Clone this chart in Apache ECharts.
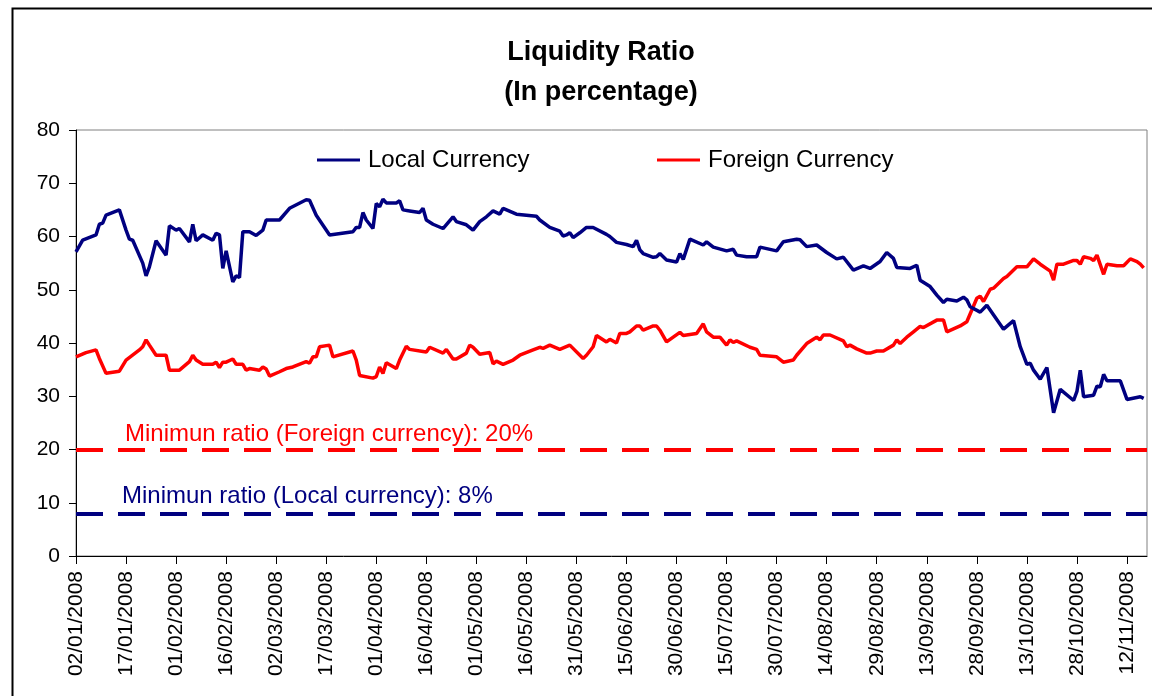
<!DOCTYPE html>
<html><head><meta charset="utf-8">
<script src="https://cdn.jsdelivr.net/npm/echarts@6/dist/echarts.min.js"></script>
<style>html,body{margin:0;padding:0;background:#fff}#c{width:1152px;height:696px}</style>
</head><body><div id="c"></div>
<script>
// ---- data ----
const startDate = '02/01/2008';
const axisEndDay = 321; // last day shown on the axis (days after start)
const tickLabels = ['02/01/2008','17/01/2008','01/02/2008','16/02/2008','02/03/2008','17/03/2008','01/04/2008','16/04/2008','01/05/2008','16/05/2008','31/05/2008','15/06/2008','30/06/2008','15/07/2008','30/07/2008','14/08/2008','29/08/2008','13/09/2008','28/09/2008','13/10/2008','28/10/2008','12/11/2008'];
// day offsets after startDate
const localDays = [0,2,6,7,8,9,13,15,16,17,20,21,22,24,27,28,30,31,34,35,36,38,41,42,43,44,45,47,48,49,50,52,54,56,57,61,64,69,70,72,76,83,84,85,86,87,89,90,91,92,93,96,97,98,100,101,103,104,105,107,110,113,114,117,119,121,123,125,127,128,132,138,139,142,145,146,147,148,149,151,153,155,159,160,162,165,167,168,169,170,173,174,175,177,180,181,182,184,188,189,191,195,197,198,201,204,205,210,212,216,217,219,222,225,228,230,233,236,238,241,243,245,246,250,252,253,256,258,260,261,264,266,267,268,271,273,278,281,283,285,286,287,289,291,293,295,299,300,301,302,305,306,307,308,309,313,315,319,320];
const localValues = [57.1,59.3,60.3,62.3,62.5,64,65,61.2,59.5,59.3,55,52.6,54.3,59.2,56.5,62,61.2,61.5,59,62.3,59.2,60.3,59.3,60.6,60.3,54,57.3,51.5,52.6,52.3,60.9,60.9,60.2,61.2,63.1,63.1,65.3,66.9,66.8,64,60.3,60.9,61.7,61.7,64.5,63.1,61.5,66.2,65.6,67,66.3,66.3,66.7,65,64.8,64.7,64.5,65.3,63.1,62.3,61.5,63.7,62.8,62.2,61.2,62.8,63.7,64.8,64.2,65.3,64.2,63.8,63.1,61.7,61,60.1,60.3,60.7,59.8,60.7,61.7,61.7,60.4,60,58.9,58.5,58.1,59.3,57.5,56.8,56.1,56.2,56.8,55.6,55.2,56.8,55.7,59.5,58.4,59,58,57.3,57.6,56.5,56.2,56.2,58,57.3,59,59.5,59.4,58.1,58.4,57,55.8,56.1,53.7,54.5,54,55.3,57,55.9,54.2,54,54.6,51.8,50.6,49,47.6,48.2,47.9,48.6,48.1,46.8,45.8,47.1,42.6,44.2,39.3,36,36.2,34.9,33.2,35.4,26.9,31.3,29.2,30.9,34.9,29.9,30.2,31.9,31.8,34.1,32.9,32.9,29.4,29.9,29.6];
const foreignDays = [0,3,6,7,9,13,15,19,20,21,22,24,27,28,31,34,35,36,38,41,42,43,44,45,47,48,50,51,52,55,56,57,58,61,63,65,69,70,71,72,73,76,77,83,84,85,89,90,91,92,93,96,97,99,100,104,105,106,110,111,113,114,117,118,119,121,124,125,126,128,131,133,137,139,140,142,145,148,152,153,155,156,159,160,162,163,165,166,168,169,170,173,174,175,177,181,182,186,188,189,191,193,195,196,197,198,202,204,205,210,212,215,216,219,221,222,223,224,226,230,231,232,234,237,238,240,242,245,246,247,249,251,253,254,258,260,261,265,267,270,271,272,274,275,278,279,282,285,287,289,292,293,294,296,299,300,301,302,304,305,306,308,309,312,314,316,318,319,320];
const foreignValues = [37.4,38.2,38.7,37.1,34.3,34.7,36.8,38.7,39.3,40.6,39.6,37.7,37.7,34.9,34.9,36.5,37.7,36.8,36,36,36.4,35.4,36.4,36.4,37,36,36,34.9,35.2,34.9,35.5,35.1,33.8,34.6,35.2,35.5,36.5,36.2,37.4,37.4,39.3,39.6,37.4,38.5,36.8,33.9,33.4,33.7,35.5,34.3,36.3,35.2,36.8,39.4,38.8,38.4,38.3,39.2,38.1,38.8,37,37,38.1,39.6,39.2,37.9,38.2,36.1,36.6,36,36.8,37.7,38.7,39.2,39,39.6,38.8,39.6,37.1,37.7,39.3,41.4,40.2,40.7,40,41.8,41.8,42.1,43.2,43.2,42.4,43.2,43.2,42.4,40.2,42,41.4,41.8,43.6,42.1,41.1,41.1,39.6,40.6,40.1,40.4,39.2,38.8,37.7,37.4,36.4,36.8,37.7,39.9,40.7,41.1,40.6,41.5,41.5,40.4,39.3,39.6,38.9,38.1,38.1,38.5,38.5,39.6,40.6,39.9,41.1,42.1,43.1,42.9,44.3,44.3,42.1,43.2,44,48.4,48.8,47.8,50.1,50.3,52.1,52.5,54.3,54.3,55.8,54.8,53.5,51.8,54.8,54.8,55.5,55.5,54.8,56.2,55.9,55.5,56.5,52.9,54.8,54.5,54.5,55.8,55.3,54.8,54.1];
const minForeignRatio = 20;
const minLocalRatio = 8;
const seriesNames = ['Local Currency', 'Foreign Currency'];

// ---- helpers ----
function parseDMY(s){ const p = s.split('/').map(Number); return Date.UTC(p[2], p[1]-1, p[0]); }
const t0 = parseDMY(startDate);
const DAY = 86400000;
const tickDays = tickLabels.map(s => Math.round((parseDMY(s) - t0) / DAY));
function fmt(d){ const dt = new Date(t0 + d*DAY); const dd = String(dt.getUTCDate()).padStart(2,'0'); const mm = String(dt.getUTCMonth()+1).padStart(2,'0'); return dd + '/' + mm + '/' + dt.getUTCFullYear(); }
const pair = (xs, ys) => xs.map((x,i) => [x, ys[i]]);

const NARROW = "'Liberation Sans Narrow', 'Arial Narrow', 'Liberation Sans', sans-serif";
const REG = "'Liberation Sans', Arial, sans-serif";

const chart = echarts.init(document.getElementById('c'), null, {renderer: 'canvas'});
chart.setOption({
  animation: false,
  backgroundColor: '#fff',
  title: {
    text: 'Liquidity Ratio\n(In percentage)',
    left: 596, top: 28, textAlign: 'center',
    textStyle: {fontFamily: NARROW, fontWeight: 'bold', fontSize: 27, lineHeight: 40, color: '#000'}
  },
  legend: [
    {data: [seriesNames[0]], left: 312, top: 143, itemWidth: 43, itemHeight: 3, itemGap: 0, icon: 'rect',
     textStyle: {fontFamily: NARROW, fontSize: 24, color: '#000', padding: [0,0,0,3]}},
    {data: [seriesNames[1]], left: 652, top: 143, itemWidth: 43, itemHeight: 3, itemGap: 0, icon: 'rect',
     textStyle: {fontFamily: NARROW, fontSize: 24, color: '#000', padding: [0,0,0,3]}}
  ],
  grid: {left: 76, right: 5, top: 130, bottom: 140, show: true, borderColor: '#808080', borderWidth: 1, containLabel: false},
  xAxis: {
    type: 'value', min: 0, max: axisEndDay,
    axisLine: {show: true, onZero: false, lineStyle: {color: '#000', width: 1}},
    axisTick: {show: true, length: 8, customValues: tickDays, lineStyle: {color: '#000'}},
    axisLabel: {customValues: tickDays, rotate: 90, margin: 15, formatter: v => fmt(v),
      fontFamily: NARROW, fontSize: 21, color: '#000'},
    splitLine: {show: false}
  },
  yAxis: {
    type: 'value', min: 0, max: 80, interval: 10,
    axisLine: {show: true, lineStyle: {color: '#000', width: 1}},
    axisTick: {show: true, length: 7, lineStyle: {color: '#000'}},
    axisLabel: {margin: 16, fontFamily: NARROW, fontSize: 21, color: '#000'},
    splitLine: {show: false}
  },
  series: [
    {name: seriesNames[0], type: 'line', data: pair(localDays, localValues), showSymbol: false, symbol: 'none',
     lineStyle: {color: '#000080', width: 3.5}, itemStyle: {color: '#000080'}, z: 3,
     markLine: {silent: true, symbol: 'none',
       lineStyle: {color: '#000080', width: 4, type: [27, 15]},
       label: {show: true, position: 'insideStartTop', distance: [46, 5], formatter: 'Minimun ratio (Local currency): 8%',
         fontFamily: REG, fontSize: 24, color: '#000080'},
       data: [{yAxis: minLocalRatio}]}},
    {name: seriesNames[1], type: 'line', data: pair(foreignDays, foreignValues), showSymbol: false, symbol: 'none',
     lineStyle: {color: '#ff0000', width: 3.5}, itemStyle: {color: '#ff0000'}, z: 2,
     markLine: {silent: true, symbol: 'none',
       lineStyle: {color: '#ff0000', width: 4, type: [27, 15]},
       label: {show: true, position: 'insideStartTop', distance: [49, 3], formatter: 'Minimun ratio (Foreign currency): 20%',
         fontFamily: REG, fontSize: 24, color: '#ff0000'},
       data: [{yAxis: minForeignRatio}]}}
  ],
  graphic: [
    {type: 'rect', left: 10, top: 6, silent: true, z: -1,
     shape: {x: 0, y: 0, width: 1170, height: 720}, style: {fill: null, stroke: '#000', lineWidth: 2}}
  ]
});
</script>
</body></html>
